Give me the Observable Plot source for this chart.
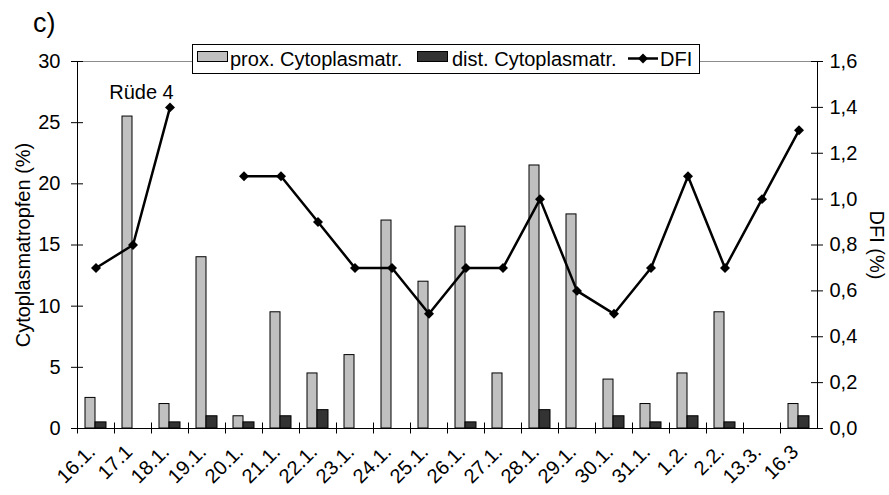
<!DOCTYPE html>
<html>
<head>
<meta charset="utf-8">
<script src="https://cdn.jsdelivr.net/npm/d3@7"></script>
<script src="https://cdn.jsdelivr.net/npm/@observablehq/plot@0.6"></script>
<style>
  body { margin: 0; background: #fff; font-family: "Liberation Sans", Arial, sans-serif; color: #000; }
  #fig { position: relative; width: 889px; height: 495px; }
  #tag { position: absolute; left: 33px; top: 10px; font-size: 27px; line-height: 1; }
  #legend { position: absolute; left: 192px; top: 44px; width: 506px; height: 28px;
            border: 1px solid #000; background: #fff; font-size: 20px; }
  #legend .sw { position: absolute; top: 6px; width: 29px; height: 9px; border: 1px solid #000; }
  #legend .lt { position: absolute; top: 0; line-height: 28px; white-space: nowrap; }
  #legend svg { position: absolute; top: 0; }
</style>
</head>
<body>
<div id="fig">
  <div id="tag">c)</div>
  <div id="legend"></div>
</div>
<script>
// Sampling dates (Rüde 4)
const dates = ["16.1.", "17.1", "18.1.", "19.1.", "20.1.", "21.1.", "22.1.", "23.1.", "24.1.", "25.1.",
               "26.1.", "27.1.", "28.1.", "29.1.", "30.1.", "31.1.", "1.2.", "2.2.", "13.3.", "16.3"];
// Proximal cytoplasmic droplets (%)
const proxValues = [2.5, 25.5, 2, 14, 1, 9.5, 4.5, 6, 17, 12, 16.5, 4.5, 21.5, 17.5, 4, 2, 4.5, 9.5, null, 2];
// Distal cytoplasmic droplets (%)
const distValues = [0.5, null, 0.5, 1, 0.5, 1, 1.5, null, null, null, 0.5, null, 1.5, null, 1, 0.5, 1, 0.5, null, 1];
// DNA fragmentation index (%)
const dfiValues = [0.7, 0.8, 1.4, null, 1.1, 1.1, 0.9, 0.7, 0.7, 0.5, 0.7, 0.7, 1.0, 0.6, 0.5, 0.7, 1.1, 0.7, 1.0, 1.3];

const seriesNames = ["prox. Cytoplasmatr.", "dist. Cytoplasmatr.", "DFI"];
const leftTicks = [0, 5, 10, 15, 20, 25, 30];
const rightTicks = [0, 0.2, 0.4, 0.6, 0.8, 1.0, 1.2, 1.4, 1.6];
const leftTitle = "Cytoplasmatropfen (%)";
const rightTitle = "DFI (%)";
const note = "Rüde 4";

const rows = dates.map((date, i) => ({date, prox: proxValues[i], dist: distValues[i], dfi: dfiValues[i]}));

// The DFI axis (0–1,6) shares the plot's y scale (0–30)
const k = 30 / 1.6;
const comma = v => v.toFixed(1).replace(".", ",");
const firstDate = dates[0];
const lastDate = dates[dates.length - 1];

const chart = Plot.plot({
  width: 889,
  height: 495,
  marginLeft: 77,
  marginRight: 72,
  marginTop: 61,
  marginBottom: 67,
  style: {fontFamily: "'Liberation Sans', Arial, sans-serif", fontSize: "20px", color: "#000"},
  x: {type: "band", domain: dates, padding: 0, axis: null},
  y: {domain: [0, 30], axis: null},
  marks: [
    Plot.frame({stroke: "#000"}),
    Plot.ruleY([30], {stroke: "#8c8c8c", strokeWidth: 1}),
    Plot.barY(rows.filter(d => d.prox != null), {
      x: "date", y: "prox", fill: "#c0c0c0", stroke: "#000", strokeWidth: 1, insetLeft: 8, insetRight: 19
    }),
    Plot.barY(rows.filter(d => d.dist != null), {
      x: "date", y: "dist", fill: "#333333", stroke: "#000", strokeWidth: 1, insetLeft: 18, insetRight: 8
    }),
    Plot.line(rows, {x: "date", y: d => d.dfi == null ? NaN : d.dfi * k, stroke: "#000", strokeWidth: 2.5}),
    Plot.dot(rows.filter(d => d.dfi != null), {
      x: "date", y: d => d.dfi * k, symbol: "diamond2", r: 4.5, fill: "#000", stroke: "none"
    }),
    // tick labels
    Plot.axisY(leftTicks, {anchor: "left", tickSize: 0, tickPadding: 17, label: null, fontSize: 20}),
    Plot.axisY(rightTicks.map(v => v * k), {
      anchor: "right", tickSize: 0, tickPadding: 12, label: null, fontSize: 20,
      tickFormat: v => comma(v / k)
    }),
    Plot.axisX(dates, {
      anchor: "bottom", tickSize: 0, tickRotate: -45, tickPadding: 20, label: null, fontSize: 20,
      textAnchor: "end", lineAnchor: "middle", dx: -4
    }),
    Plot.text([{date: "17.1", label: note}], {x: "date", text: "label", frameAnchor: "top", dy: 23, dx: 8.5, fontSize: 20}),
    Plot.text([leftTitle], {text: d => d, frameAnchor: "left", dx: -54, rotate: -90, textAnchor: "middle", fontSize: 20}),
    Plot.text([rightTitle], {text: d => d, frameAnchor: "right", dx: 59, rotate: 90, textAnchor: "middle", fontSize: 20}),
    // tick marks crossing the axis lines
    Plot.tickY(leftTicks, {y: d => d, x: () => firstDate, dx: -6, insetRight: 25, stroke: "#000"}),
    Plot.tickY(rightTicks, {y: d => d * k, x: () => lastDate, dx: 6, insetLeft: 25, stroke: "#000"}),
    Plot.ruleX(dates, {x: d => d, dx: -18.5, y1: -0.45, y2: 0.45, stroke: "#000"})
  ]
});

const fig = document.getElementById("fig");
fig.insertBefore(chart, fig.firstChild);

// Legend box
const legend = document.getElementById("legend");
const legendItems = [
  {name: seriesNames[0], kind: "bar", fill: "#c0c0c0", key: 4, label: 37},
  {name: seriesNames[1], kind: "bar", fill: "#333333", key: 224, label: 259},
  {name: seriesNames[2], kind: "line", key: 435, label: 467}
];
for (const item of legendItems) {
  if (item.kind === "bar") {
    const sw = document.createElement("div");
    sw.className = "sw";
    sw.style.left = item.key + "px";
    sw.style.background = item.fill;
    legend.appendChild(sw);
  } else {
    const ns = "http://www.w3.org/2000/svg";
    const key = document.createElementNS(ns, "svg");
    key.setAttribute("width", 30);
    key.setAttribute("height", 28);
    key.style.left = item.key + "px";
    const ln = document.createElementNS(ns, "line");
    ln.setAttribute("x1", 0); ln.setAttribute("x2", 30);
    ln.setAttribute("y1", 13.5); ln.setAttribute("y2", 13.5);
    ln.setAttribute("stroke", "#000"); ln.setAttribute("stroke-width", 2.5);
    const dm = document.createElementNS(ns, "path");
    dm.setAttribute("d", "M15,8.5L20,13.5L15,18.5L10,13.5Z");
    dm.setAttribute("fill", "#000");
    key.append(ln, dm);
    legend.appendChild(key);
  }
  const t = document.createElement("div");
  t.className = "lt";
  t.style.left = item.label + "px";
  t.textContent = item.name;
  legend.appendChild(t);
}
</script>
</body>
</html>
